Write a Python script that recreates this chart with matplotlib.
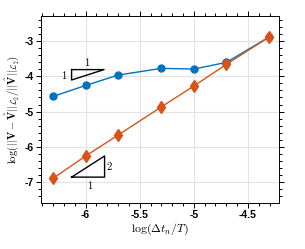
import numpy as np
import matplotlib
matplotlib.use('Agg')
import matplotlib.pyplot as plt
from matplotlib.ticker import MultipleLocator

# log10 of the time step sizes
log_dt = [-6.301, -6.0, -5.699, -5.301, -5.0, -4.699, -4.301]
# relative L2 errors (log10)
err_blue = [-4.57, -4.26, -3.965, -3.775, -3.795, -3.605, -2.88]
err_orange = [-6.895, -6.26, -5.665, -4.87, -4.275, -3.66, -2.88]

blue = '#0072BD'
orange = '#D95319'

plt.rcParams['mathtext.fontset'] = 'cm'
tick_font = {'family': 'Liberation Sans', 'weight': 'bold', 'size': 7.5}

fig = plt.figure(figsize=(3.05, 2.49), dpi=100)
ax = fig.add_axes([0.1354, 0.1867, 0.7803, 0.749])

ax.plot(log_dt, err_blue, '-o', color=blue, lw=1.0, ms=5.0, zorder=3)
ax.plot(log_dt, err_orange, '-d', color=orange, lw=1.0, ms=6.0, zorder=4)

# slope triangles
ax.plot([-6.13, -5.83, -6.13, -6.13], [-3.81, -3.81, -4.105, -3.81], color='k', lw=1.0)
ax.text(-5.99, -3.6, '$1$', fontsize=7.5, ha='center', va='center')
ax.text(-6.20, -3.955, '$1$', fontsize=7.5, ha='center', va='center')
ax.plot([-6.13, -5.825, -5.825, -6.13], [-6.86, -6.86, -6.26, -6.86], color='k', lw=1.0)
ax.text(-5.78, -6.54, '$2$', fontsize=7.5, ha='center', va='center')
ax.text(-5.957, -7.085, '$1$', fontsize=7.5, ha='center', va='center')

ax.set_xlim(-6.41, -4.21)
ax.set_ylim(-7.58, -2.29)
ax.xaxis.set_minor_locator(MultipleLocator(0.1))
ax.yaxis.set_minor_locator(MultipleLocator(0.2))
ax.set_xticks([-6, -5.5, -5, -4.5])
ax.set_xticklabels(['-6', '-5.5', '-5', '-4.5'], **tick_font)
ax.set_yticks([-7, -6, -5, -4, -3])
ax.set_yticklabels(['-7', '-6', '-5', '-4', '-3'], **tick_font)
ax.tick_params(which='both', direction='out', top=True, right=True, width=0.7, pad=2)
ax.tick_params(which='major', length=3.5)
ax.tick_params(which='minor', length=2)
ax.grid(True, which='major', color='#e3e3e3', lw=0.8)
ax.set_axisbelow(True)
for s in ax.spines.values():
    s.set_linewidth(0.7)

ax.set_xlabel(r'$\log(\Delta t_n/T)$', fontsize=8.5, labelpad=1)
ax.set_ylabel(r'$\log(||\mathbf{V}-\hat{\mathbf{V}}||_{\mathcal{L}_2}/||\hat{\mathbf{V}}||_{\mathcal{L}_2})$',
              fontsize=7.8, labelpad=2.5)

plt.savefig('out.png', dpi=100)
